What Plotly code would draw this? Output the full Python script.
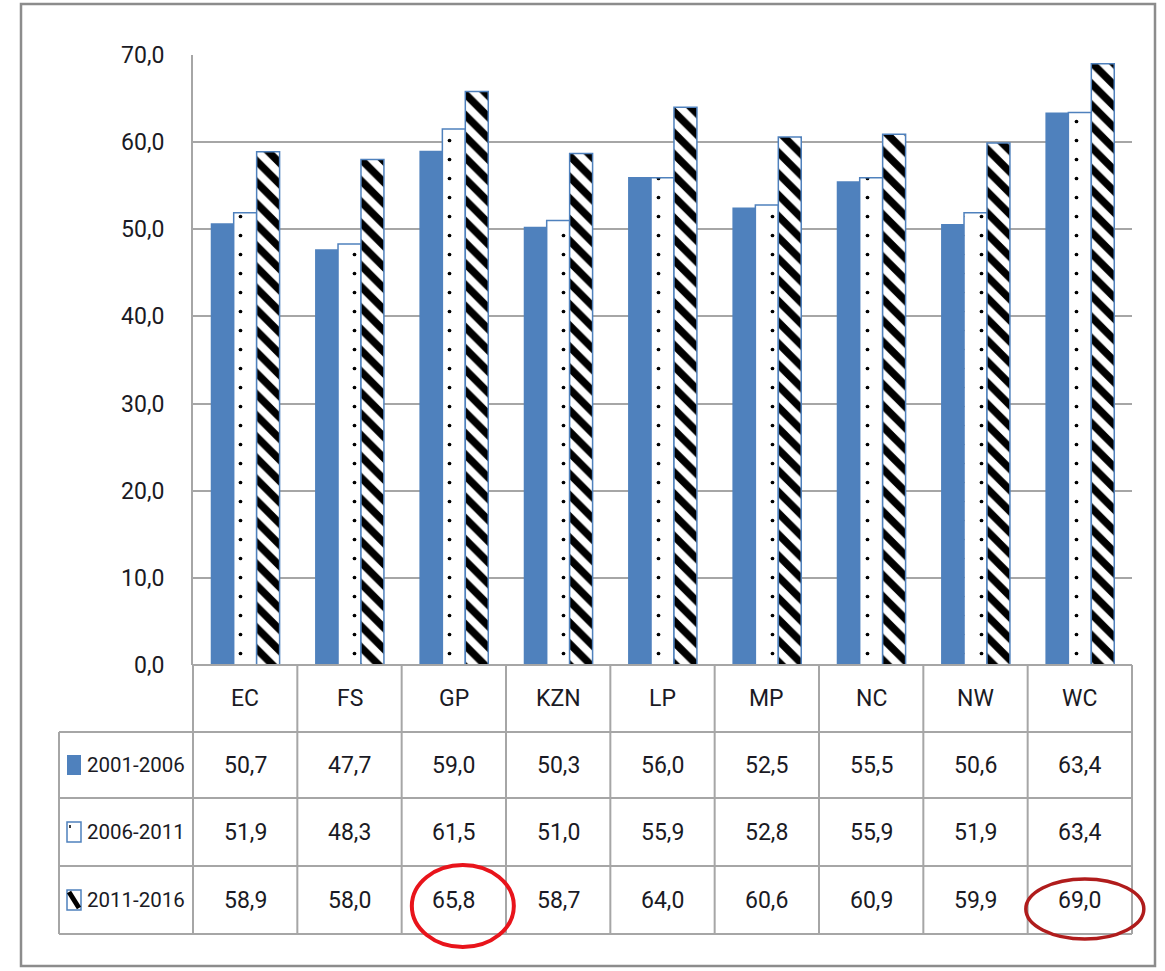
import plotly.graph_objects as go

categories = ["EC", "FS", "GP", "KZN", "LP", "MP", "NC", "NW", "WC"]
series_names = ["2001-2006", "2006-2011", "2011-2016"]
s2001_2006 = [50.7, 47.7, 59.0, 50.3, 56.0, 52.5, 55.5, 50.6, 63.4]
s2006_2011 = [51.9, 48.3, 61.5, 51.0, 55.9, 52.8, 55.9, 51.9, 63.4]
s2011_2016 = [58.9, 58.0, 65.8, 58.7, 64.0, 60.6, 60.9, 59.9, 69.0]
y_ticks = [0, 10, 20, 30, 40, 50, 60, 70]
highlighted = [("2011-2016", "GP"), ("2011-2016", "WC")]

series_values = [s2001_2006, s2006_2011, s2011_2016]

BLUE = "#4f81bd"
GRID = "#a6a6a6"
TXT = "#1a1a24"
FONT = "Roboto, sans-serif"
FS = 23
FS_LABEL = 20.5

W, H = 1165, 971
L, R, T, B = 193, 33, 55, 306
PW = W - L - R
PH = H - T - B
Y0 = H - B  # pixel y of plot bottom


def py(ypx):
    return (Y0 - ypx) / PH


def px(xpx):
    return (xpx - L) / PW


fig = go.Figure()
fig.add_bar(x=categories, y=s2001_2006, name=series_names[0],
            marker=dict(color=BLUE, line=dict(width=0)))
fig.add_bar(x=categories, y=s2006_2011, name=series_names[1],
            marker=dict(color="white", line=dict(color=BLUE, width=1.5),
                        pattern=dict(shape=".", fgcolor="black", bgcolor="white",
                                     size=19, solidity=0.03, fillmode="replace")))
fig.add_bar(x=categories, y=s2011_2016, name=series_names[2],
            marker=dict(color="white", line=dict(color=BLUE, width=1.5),
                        pattern=dict(shape="\\", fgcolor="black", bgcolor="white",
                                     size=15, solidity=0.5, fillmode="replace")))

shapes = []
annotations = []
n = len(categories)

# table geometry (pixels)
row_tops = [665, 732, 798, 866, 934]
table_left = 59
line = dict(color=GRID, width=2)

# horizontal lines
for i, yy in enumerate(row_tops):
    x0 = L if i == 0 else table_left
    shapes.append(dict(type="line", xref="paper", yref="paper",
                       x0=px(x0), x1=1, y0=py(yy), y1=py(yy), line=line))
# vertical lines at category boundaries
for k in range(n + 1):
    xx = k / n
    shapes.append(dict(type="line", xref="paper", yref="paper",
                       x0=xx, x1=xx, y0=py(row_tops[0]), y1=py(row_tops[-1]), line=line))
shapes.append(dict(type="line", xref="paper", yref="paper",
                   x0=px(table_left), x1=px(table_left),
                   y0=py(row_tops[1]), y1=py(row_tops[-1]), line=line))

# header labels
for c in categories:
    annotations.append(dict(x=c, xref="x", y=py((row_tops[0] + row_tops[1]) / 2), yref="paper",
                            text=c, showarrow=False, font=dict(size=FS, color=TXT, family=FONT),
                            xanchor="center", yanchor="middle"))
# values
for r, (name, vals) in enumerate(zip(series_names, series_values)):
    ymid = py((row_tops[r + 1] + row_tops[r + 2]) / 2)
    for c, v in zip(categories, vals):
        annotations.append(dict(x=c, xref="x", y=ymid, yref="paper",
                                text=f"{v:.1f}".replace(".", ","), showarrow=False,
                                font=dict(size=FS, color=TXT, family=FONT),
                                xanchor="center", yanchor="middle"))
    annotations.append(dict(x=px(85), xref="paper", y=ymid, yref="paper",
                            text=name, showarrow=False,
                            font=dict(size=FS_LABEL, color=TXT, family=FONT),
                            xanchor="left", yanchor="middle"))
    # legend key
    ky0, ky1 = (row_tops[r + 1] + row_tops[r + 2]) / 2 - 10, (row_tops[r + 1] + row_tops[r + 2]) / 2 + 10
    kx0, kx1 = 67, 81
    if r == 0:
        shapes.append(dict(type="rect", xref="paper", yref="paper",
                           x0=px(kx0), x1=px(kx1), y0=py(ky1), y1=py(ky0),
                           fillcolor=BLUE, line=dict(width=0)))
    else:
        shapes.append(dict(type="rect", xref="paper", yref="paper",
                           x0=px(kx0), x1=px(kx1), y0=py(ky1), y1=py(ky0),
                           fillcolor="white", line=dict(color=BLUE, width=1.5)))
        if r == 1:
            shapes.append(dict(type="line", xref="paper", yref="paper",
                               x0=px(70), x1=px(70), y0=py(ky0 + 3), y1=py(ky0 + 6),
                               line=dict(color="black", width=1.5)))
        else:
            shapes.append(dict(type="line", xref="paper", yref="paper",
                               x0=px(kx0 + 2), x1=px(kx1 - 2), y0=py(ky0 + 2), y1=py(ky1 - 2),
                               line=dict(color="black", width=5)))

# highlight ellipses
ell_style = {"GP": dict(color="#e8141b", width=4, half=(51, 41), dx=9, dy=6),
             "WC": dict(color="#b01c1c", width=3.5, half=(59, 30), dx=5, dy=9)}
for sname, cat in highlighted:
    r = series_names.index(sname)
    i = categories.index(cat)
    st = ell_style[cat]
    cx = L + (i + 0.5) * PW / n + st["dx"]
    cy = (row_tops[r + 1] + row_tops[r + 2]) / 2 + st["dy"]
    hw, hh = st["half"]
    shapes.append(dict(type="circle", xref="paper", yref="paper",
                       x0=px(cx - hw), x1=px(cx + hw), y0=py(cy + hh), y1=py(cy - hh),
                       line=dict(color=st["color"], width=st["width"])))

# outer border
shapes.append(dict(type="rect", xref="paper", yref="paper",
                   x0=px(21), x1=px(1155), y0=py(966), y1=py(4),
                   line=dict(color="#8c8c8c", width=2.5), fillcolor="rgba(0,0,0,0)"))

fig.update_layout(
    width=W, height=H,
    margin=dict(l=L, r=R, t=T, b=B, pad=0),
    paper_bgcolor="white", plot_bgcolor="white",
    barmode="group", bargap=0.34, bargroupgap=0,
    showlegend=False,
    separators=",.",
    shapes=shapes, annotations=annotations,
    font=dict(family=FONT, color=TXT),
)
fig.update_xaxes(showticklabels=False, showgrid=False, zeroline=False, showline=False,
                 range=[-0.5, n - 0.5])
fig.update_yaxes(range=[0, 70], tickvals=y_ticks, tickformat=".1f",
                 showgrid=True, gridcolor=GRID, gridwidth=2,
                 showline=True, linecolor=GRID, linewidth=2,
                 zeroline=False, ticks="", ticklabelstandoff=22,
                 tickfont=dict(size=FS, color=TXT, family=FONT))

fig.write_html("out.html")
